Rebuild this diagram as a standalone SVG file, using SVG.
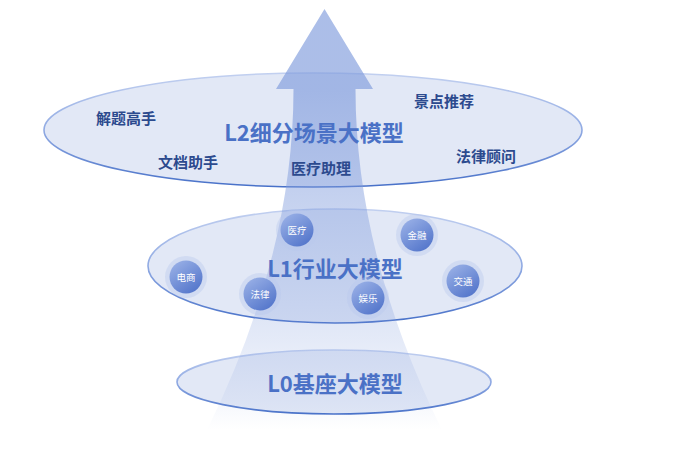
<svg xmlns="http://www.w3.org/2000/svg" width="678" height="461" viewBox="0 0 678 461">
  <defs>
    <linearGradient id="ellStroke" x1="0" y1="0" x2="0" y2="1">
      <stop offset="0" stop-color="#c2d0f0"/>
      <stop offset="0.5" stop-color="#90aae3"/>
      <stop offset="1" stop-color="#4770c8"/>
    </linearGradient>
    <linearGradient id="beam" gradientUnits="userSpaceOnUse" x1="0" y1="9" x2="0" y2="430">
      <stop offset="0" stop-color="#7f9bdc" stop-opacity="0.65"/>
      <stop offset="0.19" stop-color="#7f9bdc" stop-opacity="0.65"/>
      <stop offset="0.43" stop-color="#7f9bdc" stop-opacity="0.47"/>
      <stop offset="0.786" stop-color="#7f9bdc" stop-opacity="0.21"/>
      <stop offset="0.93" stop-color="#7f9bdc" stop-opacity="0.08"/>
      <stop offset="1" stop-color="#7f9bdc" stop-opacity="0"/>
    </linearGradient>
    <linearGradient id="ball" x1="0.2" y1="0.1" x2="0.8" y2="0.95">
      <stop offset="0" stop-color="#93abe4"/>
      <stop offset="1" stop-color="#5476cb"/>
    </linearGradient>
  </defs>
  <style>
    .ell { fill: #e2e8f6; stroke: url(#ellStroke); stroke-width: 1.6; }
    .title { font-family: "Noto Sans CJK SC", "Liberation Sans", sans-serif; font-weight: bold; font-size: 22px; fill: #4a71c6; text-anchor: middle; dominant-baseline: central; }
    .lbl { font-family: "Noto Sans CJK SC", "Liberation Sans", sans-serif; font-weight: bold; font-size: 15px; fill: #2c4a8e; text-anchor: middle; dominant-baseline: central; }
    .halo { fill: #b9c9ee; fill-opacity: 0.4; }
    .ball { fill: url(#ball); }
    .btxt { font-family: "Noto Sans CJK SC", "Liberation Sans", sans-serif; font-size: 9.5px; fill: #ffffff; text-anchor: middle; dominant-baseline: central; }
  </style>

  <g id="layer-L0">
    <ellipse class="ell" cx="334" cy="382" rx="157" ry="32"/>
  </g>
  <g id="layer-L1">
    <ellipse class="ell" cx="335" cy="266" rx="187" ry="57"/>
  </g>
  <g id="layer-L2">
    <ellipse class="ell" cx="313" cy="130" rx="269" ry="57"/>
  </g>

  <g id="connectors">
    <path d="M324.5,9 L373,89 L355.5,89 Q355.5,254.5 442,430 L207,430 Q293.5,254.5 293.5,89 L276,89 Z" fill="url(#beam)"/>
  </g>

  <g id="label-L0">
    <text class="title" x="335" y="382">L0基座大模型</text>
  </g>
  <g id="label-L1">
    <text class="title" x="335" y="267">L1行业大模型</text>
  </g>
  <g id="label-L2">
    <text class="title" x="314" y="131">L2细分场景大模型</text>
  </g>

  <g id="n-jieti"><text class="lbl" x="126" y="117">解题高手</text></g>
  <g id="n-jingdian"><text class="lbl" x="444" y="100">景点推荐</text></g>
  <g id="n-wendang"><text class="lbl" x="188" y="161">文档助手</text></g>
  <g id="n-yiliaozhuli"><text class="lbl" x="321" y="167">医疗助理</text></g>
  <g id="n-falvguwen"><text class="lbl" x="486" y="155">法律顾问</text></g>

  <g id="n-yiliao">
    <circle class="halo" cx="297" cy="230" r="21"/>
    <circle class="ball" cx="297" cy="230" r="16.5"/>
    <text class="btxt" x="297" y="230">医疗</text>
  </g>
  <g id="n-jinrong">
    <circle class="halo" cx="417" cy="235" r="21"/>
    <circle class="ball" cx="417" cy="235" r="16.5"/>
    <text class="btxt" x="417" y="235">金融</text>
  </g>
  <g id="n-dianshang">
    <circle class="halo" cx="186" cy="277" r="21"/>
    <circle class="ball" cx="186" cy="277" r="16.5"/>
    <text class="btxt" x="186" y="277">电商</text>
  </g>
  <g id="n-falv">
    <circle class="halo" cx="260" cy="294" r="21"/>
    <circle class="ball" cx="260" cy="294" r="16.5"/>
    <text class="btxt" x="260" y="294">法律</text>
  </g>
  <g id="n-yule">
    <circle class="halo" cx="368" cy="298" r="21"/>
    <circle class="ball" cx="368" cy="298" r="16.5"/>
    <text class="btxt" x="368" y="298">娱乐</text>
  </g>
  <g id="n-jiaotong">
    <circle class="halo" cx="463" cy="281" r="21"/>
    <circle class="ball" cx="463" cy="281" r="16.5"/>
    <text class="btxt" x="463" y="281">交通</text>
  </g>
</svg>
